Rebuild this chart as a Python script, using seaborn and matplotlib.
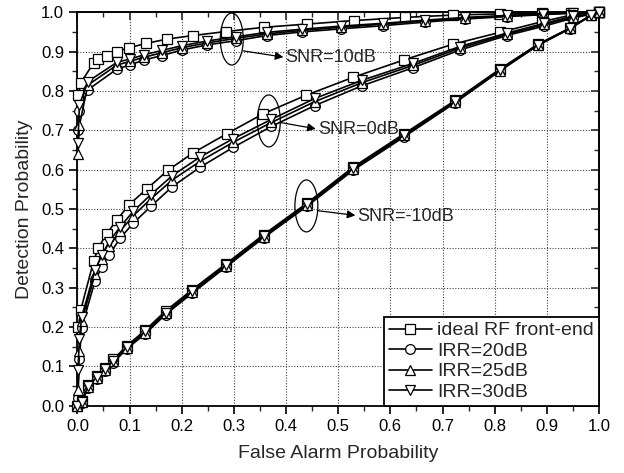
import numpy as np
import matplotlib
matplotlib.use('Agg')
import matplotlib.pyplot as plt
from matplotlib.patches import Ellipse
from matplotlib.ticker import MultipleLocator
from matplotlib.lines import Line2D
import seaborn as sns

# --- datos ---
series_labels = ['ideal RF front-end', 'IRR=20dB', 'IRR=25dB', 'IRR=30dB']
series_markers = ['s', 'o', '^', 'v']

# SNR = 10 dB
ideal_x_10 = [0.002, 0.0065, 0.031, 0.040, 0.056, 0.075, 0.099, 0.132, 0.172, 0.222, 0.284,
              0.358, 0.440, 0.530, 0.628, 0.720, 0.810, 0.890, 0.947, 1.0]
ideal_y_10 = [0.790, 0.821, 0.871, 0.881, 0.890, 0.900, 0.910, 0.921, 0.932, 0.941, 0.951,
              0.962, 0.970, 0.979, 0.987, 0.993, 0.996, 0.998, 0.999, 1.0]
irr_x_10 = [0.001, 0.004, 0.020, 0.076, 0.100, 0.128, 0.162, 0.200, 0.248, 0.305, 0.363,
            0.430, 0.506, 0.586, 0.666, 0.743, 0.823, 0.892, 0.950, 1.0]
irr20_y_10 = [0.700, 0.748, 0.803, 0.856, 0.866, 0.879, 0.890, 0.904, 0.917, 0.928, 0.941,
              0.950, 0.958, 0.966, 0.975, 0.983, 0.989, 0.994, 0.998, 1.0]
irr25_y_10 = [0.640, 0.713, 0.815, 0.866, 0.875, 0.886, 0.897, 0.910, 0.922, 0.934, 0.945,
              0.954, 0.962, 0.970, 0.978, 0.985, 0.991, 0.995, 0.998, 1.0]
irr30_y_10 = [0.668, 0.765, 0.824, 0.873, 0.881, 0.892, 0.903, 0.915, 0.927, 0.938, 0.949,
              0.957, 0.965, 0.972, 0.980, 0.987, 0.992, 0.996, 0.999, 1.0]

# SNR = 0 dB
ideal_x_0 = [0.002, 0.0065, 0.031, 0.040, 0.056, 0.075, 0.099, 0.133, 0.173, 0.222, 0.286,
             0.356, 0.438, 0.529, 0.626, 0.720, 0.810, 0.890, 0.947, 1.0]
ideal_y_0 = [0.200, 0.244, 0.367, 0.401, 0.437, 0.471, 0.511, 0.551, 0.598, 0.643, 0.691,
             0.742, 0.789, 0.835, 0.879, 0.919, 0.949, 0.976, 0.993, 1.0]
irr_x_0 = [0.001, 0.004, 0.008, 0.034, 0.047, 0.061, 0.082, 0.107, 0.141, 0.182, 0.236,
           0.299, 0.372, 0.455, 0.545, 0.643, 0.733, 0.823, 0.895, 0.950, 1.0]
irr20_y_0 = [0.020, 0.120, 0.199, 0.318, 0.353, 0.384, 0.426, 0.464, 0.507, 0.557, 0.607,
             0.657, 0.710, 0.763, 0.813, 0.859, 0.904, 0.941, 0.965, 0.985, 1.0]
irr25_y_0 = [0.040, 0.140, 0.215, 0.335, 0.372, 0.405, 0.444, 0.483, 0.526, 0.574, 0.622,
             0.670, 0.720, 0.773, 0.821, 0.865, 0.909, 0.944, 0.969, 0.988, 1.0]
irr30_y_0 = [0.090, 0.170, 0.225, 0.345, 0.384, 0.417, 0.455, 0.494, 0.537, 0.585, 0.633,
             0.679, 0.728, 0.781, 0.827, 0.870, 0.913, 0.947, 0.972, 0.990, 1.0]

# SNR = -10 dB
x_m10 = [0.0, 0.008, 0.021, 0.037, 0.053, 0.069, 0.095, 0.130, 0.169, 0.220, 0.285,
         0.357, 0.440, 0.529, 0.627, 0.724, 0.810, 0.883, 0.944, 0.985, 1.0]
ideal_y_m10 = [0.0, 0.012, 0.054, 0.076, 0.097, 0.118, 0.153, 0.192, 0.241, 0.295, 0.361,
               0.435, 0.515, 0.607, 0.692, 0.776, 0.856, 0.919, 0.960, 0.993, 1.0]
irr20_y_m10 = [0.0, 0.007, 0.046, 0.068, 0.089, 0.110, 0.145, 0.183, 0.232, 0.286, 0.353,
               0.427, 0.507, 0.599, 0.684, 0.770, 0.851, 0.916, 0.958, 0.992, 1.0]
irr25_y_m10 = [0.0, 0.009, 0.049, 0.071, 0.092, 0.113, 0.148, 0.186, 0.235, 0.289, 0.356,
               0.430, 0.510, 0.602, 0.687, 0.772, 0.852, 0.917, 0.959, 0.993, 1.0]
irr30_y_m10 = [0.0, 0.010, 0.051, 0.073, 0.094, 0.115, 0.150, 0.189, 0.237, 0.291, 0.358,
               0.432, 0.512, 0.604, 0.689, 0.774, 0.854, 0.918, 0.959, 0.993, 1.0]

snr_labels = ['SNR=10dB', 'SNR=0dB', 'SNR=-10dB']

# --- estilo ---
sns.set_theme(style='ticks')
plt.rcParams['font.family'] = ['Liberation Sans', 'DejaVu Sans']

fig = plt.figure(figsize=(6.24, 4.73), dpi=100)
ax = fig.add_axes([0.124, 0.142, 0.836, 0.832])

curves = [
    (ideal_x_10, ideal_y_10, 0), (irr_x_10, irr20_y_10, 1), (irr_x_10, irr25_y_10, 2), (irr_x_10, irr30_y_10, 3),
    (ideal_x_0, ideal_y_0, 0), (irr_x_0, irr20_y_0, 1), (irr_x_0, irr25_y_0, 2), (irr_x_0, irr30_y_0, 3),
    (x_m10, ideal_y_m10, 0), (x_m10, irr20_y_m10, 1), (x_m10, irr25_y_m10, 2), (x_m10, irr30_y_m10, 3),
]
for xs, ys, k in curves:
    sns.lineplot(x=xs, y=ys, ax=ax, color='black', linewidth=1.2, sort=False,
                 marker=series_markers[k], markersize=7, markerfacecolor='white',
                 markeredgecolor='black', markeredgewidth=0.9, clip_on=False, zorder=3)

ax.set_xlim(0, 1)
ax.set_ylim(0, 1)
ax.xaxis.set_major_locator(MultipleLocator(0.1))
ax.yaxis.set_major_locator(MultipleLocator(0.1))
ax.xaxis.set_minor_locator(MultipleLocator(0.05))
ax.yaxis.set_minor_locator(MultipleLocator(0.05))
ax.xaxis.set_major_formatter(plt.FormatStrFormatter('%.1f'))
ax.yaxis.set_major_formatter(plt.FormatStrFormatter('%.1f'))
ax.tick_params(which='major', direction='out', length=6, width=1.2, labelsize=12, colors='black')
ax.tick_params(which='minor', direction='out', length=3.5, width=1.0)
ax.grid(True, which='major', linestyle=(0, (1, 1.5)), color='#444444', linewidth=0.8)
for s in ax.spines.values():
    s.set_visible(True)
    s.set_linewidth(1.3)
    s.set_color('black')

# marcas interiores arriba y a la derecha
top = ax.secondary_xaxis('top')
top.xaxis.set_major_locator(MultipleLocator(0.1))
top.xaxis.set_minor_locator(MultipleLocator(0.05))
top.tick_params(which='major', direction='in', length=6, width=1.2, labeltop=False)
top.tick_params(which='minor', direction='in', length=3.5, width=1.0)
right = ax.secondary_yaxis('right')
right.yaxis.set_major_locator(MultipleLocator(0.1))
right.yaxis.set_minor_locator(MultipleLocator(0.05))
right.tick_params(which='major', direction='in', length=6, width=1.2, labelright=False)
right.tick_params(which='minor', direction='in', length=3.5, width=1.0)

ax.set_xlabel('False Alarm Probability', fontsize=14, labelpad=8)
ax.set_ylabel('Detection Probability', fontsize=14, labelpad=6)

# elipses, flechas y rótulos de SNR
ellipse_centers = [(0.296, 0.932), (0.367, 0.724), (0.439, 0.508)]
arrow_tails = [(0.318, 0.902), (0.389, 0.720), (0.460, 0.496)]
arrow_heads = [(0.395, 0.886), (0.457, 0.704), (0.533, 0.484)]
text_pos = [(0.398, 0.884), (0.461, 0.702), (0.536, 0.482)]
for c, t, h, p, lab in zip(ellipse_centers, arrow_tails, arrow_heads, text_pos, snr_labels):
    ax.add_patch(Ellipse(c, 0.044, 0.132, fill=False, edgecolor='black', linewidth=0.9, zorder=5))
    ax.annotate('', xy=h, xytext=t,
                arrowprops=dict(arrowstyle='-|>', color='black', lw=0.9, mutation_scale=12,
                                shrinkA=0, shrinkB=0), zorder=5)
    ax.text(p[0], p[1], lab, fontsize=13, va='center', ha='left', zorder=6)

handles = [Line2D([], [], color='black', linewidth=1.2, marker=m, markersize=7,
                  markerfacecolor='white', markeredgecolor='black', markeredgewidth=0.9)
           for m in series_markers]
leg = ax.legend(handles, series_labels, loc='lower right', fontsize=14, frameon=True,
                fancybox=False, edgecolor='black', framealpha=1, borderaxespad=0,
                handlelength=2.2, labelspacing=0.15, handletextpad=0.3, borderpad=0.25)
leg.get_frame().set_linewidth(1.3)
leg.set_zorder(10)

fig.savefig('out.png', dpi=100)
